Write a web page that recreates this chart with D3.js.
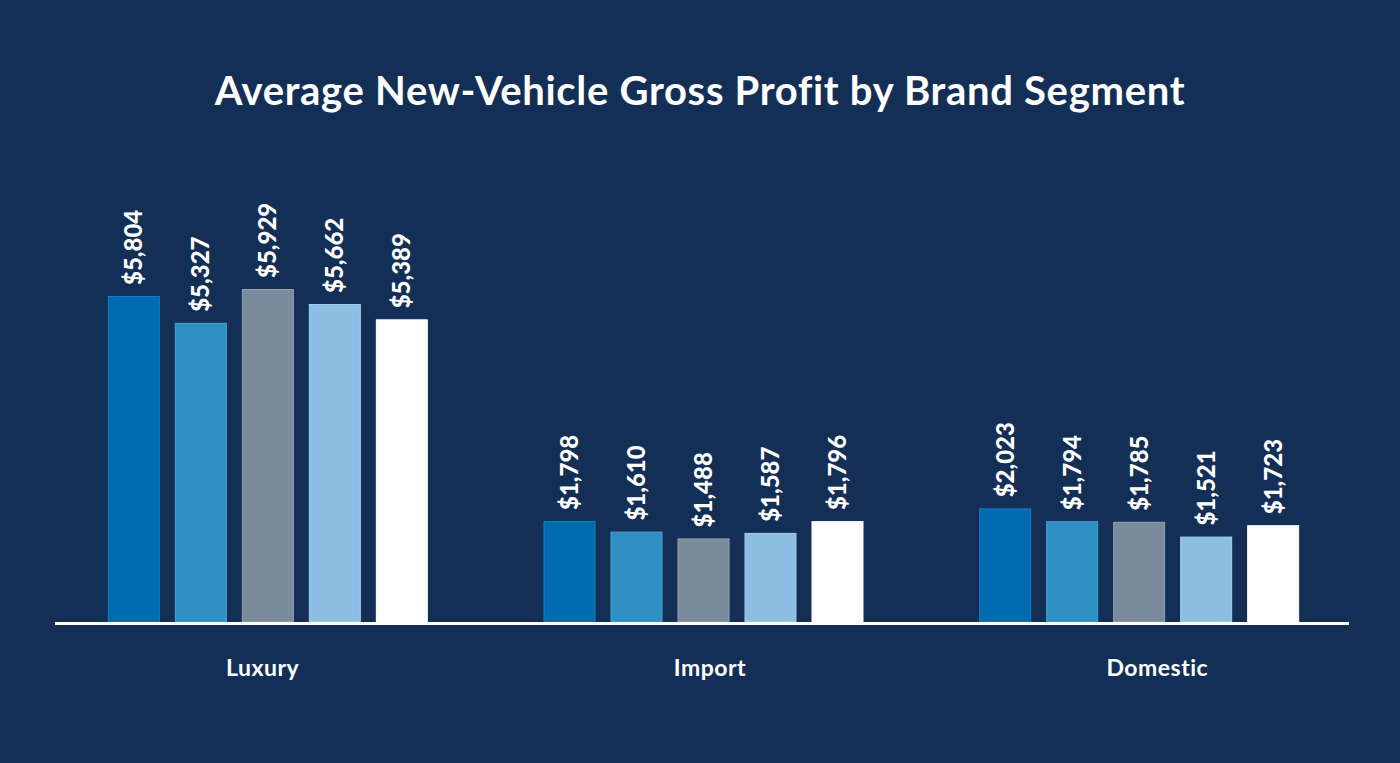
<!DOCTYPE html>
<html>
<head>
<meta charset="utf-8">
<script src="https://cdn.jsdelivr.net/npm/d3@7"></script>
<style>
  html, body { margin: 0; padding: 0; background: #142f56; }
  svg { display: block; font-family: Lato, "Open Sans", sans-serif; }
</style>
</head>
<body>
<svg id="chart" width="1400" height="763"></svg>
<script>
// categories and the five series (one bar each per category)
const segments = ["Luxury", "Import", "Domestic"]
const seriesNames = ["s1", "s2", "s3", "s4", "s5"]
const luxury = [5804, 5327, 5929, 5662, 5389]
const importVals = [1798, 1610, 1488, 1587, 1796]
const domestic = [2023, 1794, 1785, 1521, 1723]
const barColors = ["#006cb0", "#2e90c2", "#7a8c9c", "#8cbee3", "#ffffff"]
const barStrokes = ["#1a7cc0", "#4aa2d0", "#93a3b2", "#a5cdea", "#ffffff"]

const title = "Average New-Vehicle Gross Profit by Brand Segment"

const W = 1400, H = 763
const baseY = 622

const rows = segments.map(function (s, i) {
	return { name: s, vals: [luxury, importVals, domestic][i] }
})

const svg = d3.select("#chart")

svg.append("rect")
	.attr("width", W)
	.attr("height", H)
	.attr("fill", "#142f56")

svg.append("text")
	.attr("x", W / 2)
	.attr("y", 105)
	.attr("text-anchor", "middle")
	.attr("fill", "#ffffff")
	.style("font-size", "40px")
	.style("font-weight", 700)
	.style("letter-spacing", "0.7px")
	.text(title)

const x0 = d3.scaleBand()
	.domain(segments)
	.range([50, 1357])

// the category names sit a little off the group centres in the original
const xLabel = d3.scaleBand()
	.domain(segments)
	.range([39, 1381])

const x1 = d3.scaleBand()
	.domain(seriesNames)
	.range([-160, 160])
	.paddingInner(15 / 67)

const y = d3.scaleLinear()
	.domain([0, 6000])
	.range([baseY, baseY - 337])

const groups = svg.selectAll(".grp")
	.data(rows)
	.enter()
	.append("g")
	.attr("class", "grp")
	.attr("transform", d => "translate(" + (x0(d.name) + x0.bandwidth() / 2) + ",0)")

groups.selectAll("rect")
	.data(d => d.vals.map((v, i) => ({ key: seriesNames[i], value: v, i: i })))
	.enter()
	.append("rect")
	.attr("x", d => x1(d.key) + 0.5)
	.attr("y", d => y(d.value) + 0.5)
	.attr("width", x1.bandwidth() - 1)
	.attr("height", d => y(0) - y(d.value) - 0.5)
	.attr("fill", d => barColors[d.i])
	.attr("stroke", d => barStrokes[d.i])
	.attr("stroke-width", 1)

groups.selectAll(".val")
	.data(d => d.vals.map((v, i) => ({ key: seriesNames[i], value: v })))
	.enter()
	.append("text")
	.attr("class", "val")
	.attr("transform", d => "translate(" + (x1(d.key) + x1.bandwidth() / 2 + 8.5) + "," + (y(d.value) - 11) + ") rotate(-90)")
	.attr("fill", "#ffffff")
	.style("font-size", "24px")
	.style("font-weight", 900)
	.text(d => d3.format("$,")(d.value))

// baseline
svg.append("line")
	.attr("x1", 55)
	.attr("x2", 1349)
	.attr("y1", baseY + 1.5)
	.attr("y2", baseY + 1.5)
	.attr("stroke", "#ffffff")
	.attr("stroke-width", 3)

// category labels
svg.selectAll(".cat")
	.data(segments)
	.enter()
	.append("text")
	.attr("class", "cat")
	.attr("x", d => xLabel(d) + xLabel.bandwidth() / 2)
	.attr("y", 676)
	.attr("text-anchor", "middle")
	.attr("fill", "#ffffff")
	.style("font-size", "23px")
	.style("font-weight", 700)
	.style("letter-spacing", "0.5px")
	.text(d => d)
</script>
</body>
</html>
